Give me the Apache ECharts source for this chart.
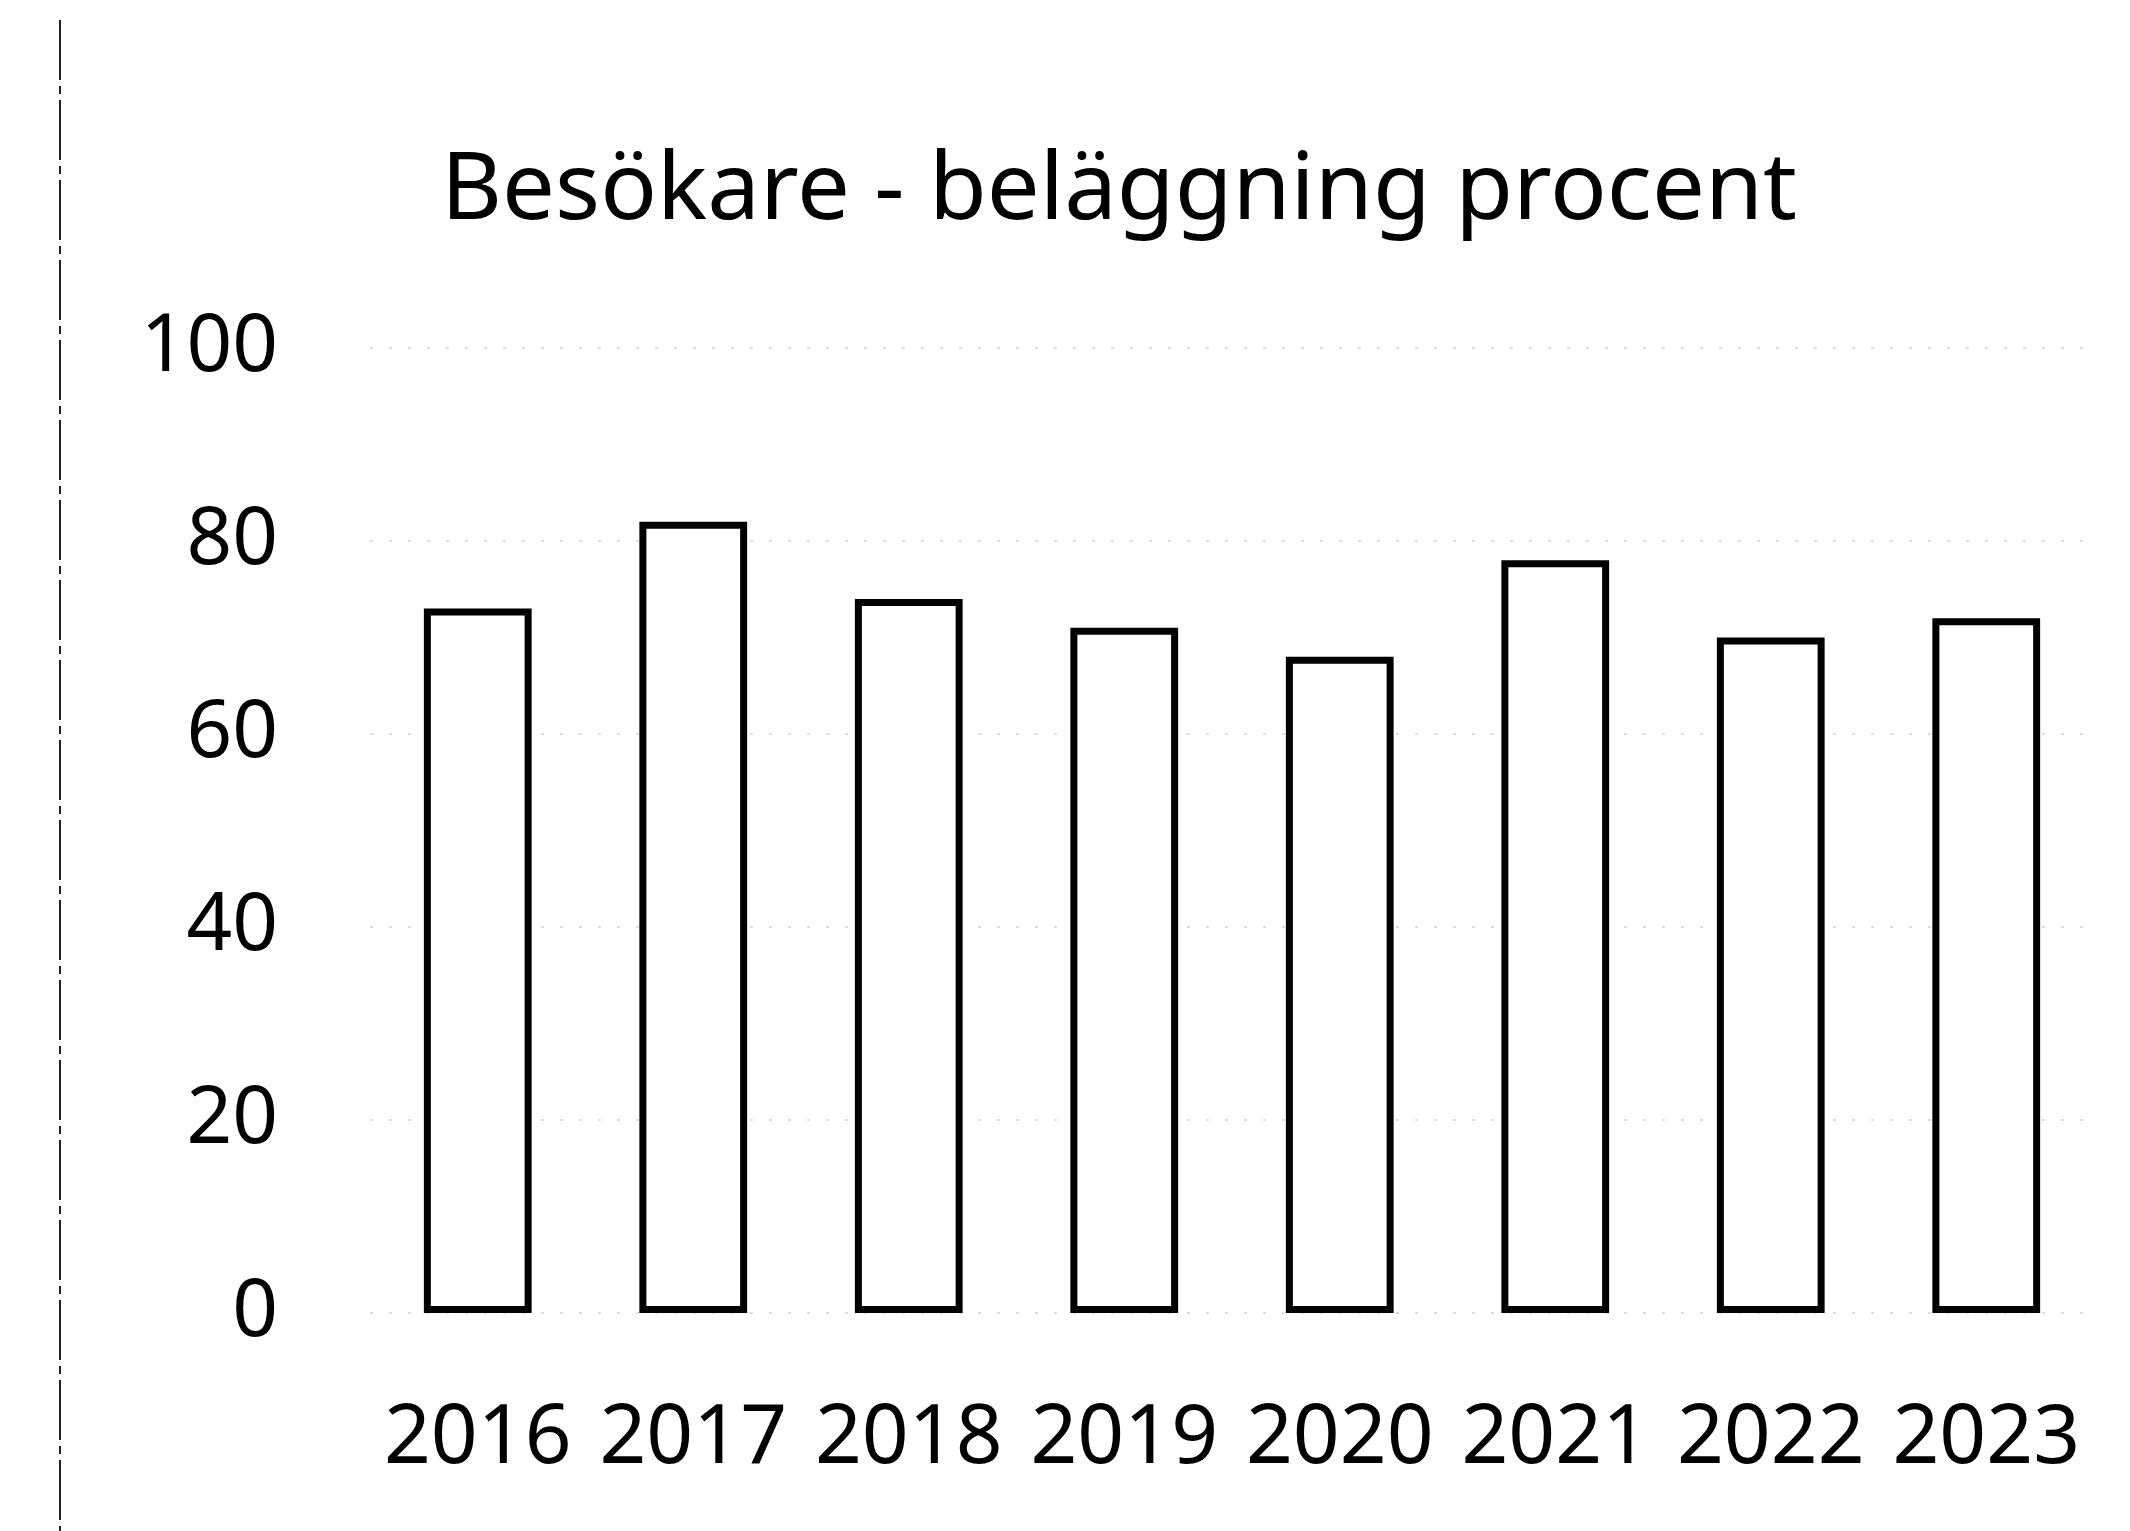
<!DOCTYPE html>
<html>
<head>
<meta charset="utf-8">
<script src="https://cdn.jsdelivr.net/npm/echarts@6/dist/echarts.min.js"></script>
<style>
  html, body { margin: 0; padding: 0; background: #fff; }
  #chart { width: 2130px; height: 1531px; }
</style>
</head>
<body>
<div id="chart"></div>
<script>
// data
const years = ['2016', '2017', '2018', '2019', '2020', '2021', '2022', '2023'];
const occupancy = [73, 82, 74, 71, 68, 78, 70, 72];
const yTicks = [0, 20, 40, 60, 80, 100];

const font = '"Noto Sans", "Open Sans", sans-serif';
const chart = echarts.init(document.getElementById('chart'));

chart.setOption({
  backgroundColor: '#fff',
  animation: false,
  title: {
    text: 'Besökare - beläggning procent',
    left: 436,
    top: 140,
    textStyle: { fontFamily: font, fontSize: 94, fontWeight: 'normal', color: '#000' }
  },
  grid: { left: 370, right: 36, top: 348, bottom: 218 },
  xAxis: {
    type: 'category',
    data: years,
    axisLine: { show: false },
    axisTick: { show: false },
    axisLabel: { interval: 0, margin: 86, fontFamily: font, fontSize: 82, color: '#000' }
  },
  yAxis: {
    type: 'value',
    min: yTicks[0],
    max: yTicks[yTicks.length - 1],
    interval: 20,
    axisLine: { show: false },
    axisTick: { show: false },
    axisLabel: { margin: 92, fontFamily: font, fontSize: 80, color: '#000' },
    splitLine: { lineStyle: { color: '#dcdcdc', type: [3, 16], width: 2 } }
  },
  series: [{
    type: 'bar',
    data: occupancy,
    barWidth: '50%',
    itemStyle: { color: '#fff', borderColor: '#000', borderWidth: 7 }
  }],
  // scanned page edge on the left
  graphic: [{
    type: 'line',
    shape: { x1: 60, y1: 20, x2: 60, y2: 1531 },
    style: { stroke: '#222', lineWidth: 2, lineDash: [60, 6, 8, 6] }
  }]
});
</script>
</body>
</html>
